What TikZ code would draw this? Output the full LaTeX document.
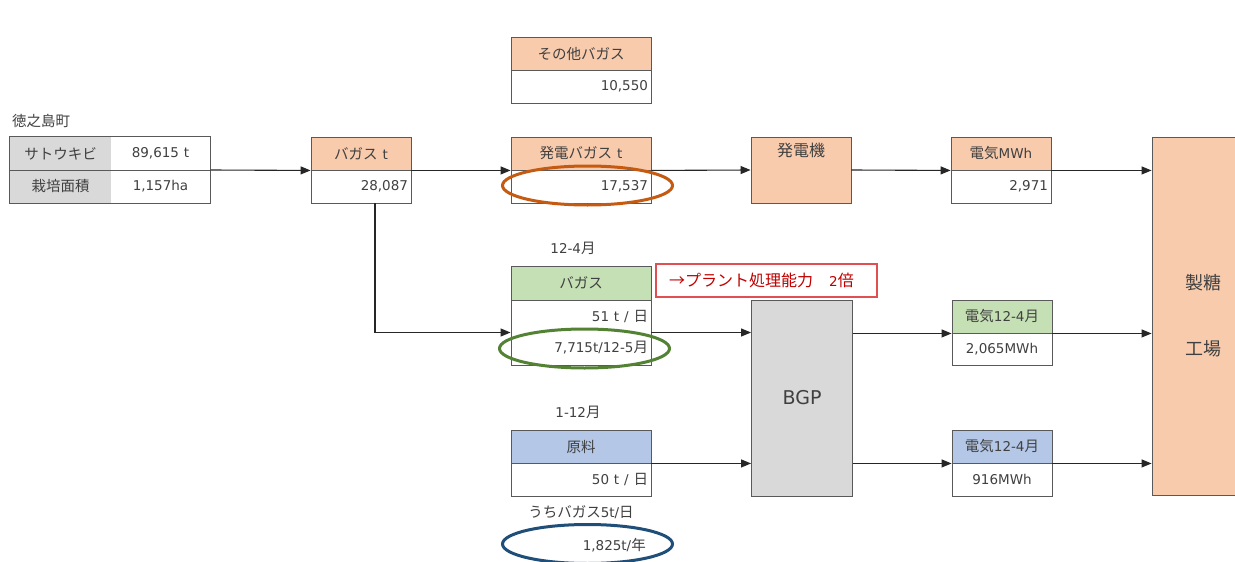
\documentclass[tikz,border=0pt]{standalone}
\usepackage{fontspec}
\setmainfont{Noto Sans CJK JP}
\newfontfamily\latfont{DejaVu Sans}
\newcommand\ltn[1]{{\latfont\fontsize{13.5}{15}\selectfont #1}}
\usetikzlibrary{arrows.meta,fit,shapes.geometric}
\definecolor{txt}{HTML}{404040}
\definecolor{bord}{HTML}{595959}
\definecolor{orfill}{HTML}{F8CBAD}
\definecolor{grfill}{HTML}{C5E0B4}
\definecolor{blfill}{HTML}{B4C7E7}
\definecolor{gyfill}{HTML}{D9D9D9}
\definecolor{ellor}{HTML}{C55A11}
\definecolor{ellgr}{HTML}{548235}
\definecolor{ellbl}{HTML}{1F4E79}
\definecolor{redtxt}{HTML}{C00000}
\definecolor{redbord}{HTML}{E05050}
\tikzset{
  cell/.style 2 args={draw=bord, line width=0.9pt, minimum height=#2, text width=#1, inner xsep=3pt, inner ysep=0pt, align=center, text=txt},
  rcell/.style 2 args={cell={#1}{#2}, align=right},
  bare/.style 2 args={minimum height=#2, text width=#1, inner xsep=3pt, inner ysep=0pt, align=center, text=txt},
  arr/.style={line width=1.1pt, draw=black!85, -{Triangle[length=10pt,width=8pt]}},
  lbl/.style={text=txt, inner sep=0pt},
  ell/.style={line width=3pt, ellipse, minimum width=170pt, minimum height=39pt},
}
\begin{document}
\begin{tikzpicture}[x=1pt,y=-1pt,font=\fontsize{14.5}{16}\selectfont]
\useasboundingbox[fill=white] (0,0) rectangle (1235,562);

% left table
\node[lbl, anchor=west] (town) at (12,121) {徳之島町};
\node[bare={95pt}{33pt}, fill=gyfill] (g1) at (60.5,153.5) {サトウキビ};
\node[bare={93pt}{33pt}] (v1) at (160.5,153.5) {\ltn{89,615 t}};
\node[bare={95pt}{33pt}, fill=gyfill] (g2) at (60.5,186.5) {栽培面積};
\node[bare={93pt}{33pt}] (v2) at (160.5,186.5) {\ltn{1,157ha}};
\node[draw=bord, line width=0.9pt, fit=(g1)(v2), inner sep=0pt] (lt) {};
\draw[draw=bord, line width=0.9pt] (g1.south west) -- (v1.south east);

% bagasse t
\node[cell={94pt}{33pt}, fill=orfill] (b1) at (361,153.5) {バガス\ltn{ t}};
\node[rcell={94pt}{33pt}] (b2) at (361,186.5) {\ltn{28,087}};

% other bagasse
\node[cell={134pt}{33pt}, fill=orfill] (o1) at (581,53.5) {その他バガス};
\node[rcell={134pt}{33pt}] (o2) at (581,86.5) {\ltn{10,550}};

% power bagasse
\node[cell={134pt}{33pt}, fill=orfill] (p1) at (581,153.5) {発電バガス\ltn{ t}};
\node[rcell={134pt}{33pt}] (p2) at (581,186.5) {\ltn{17,537}};
\node[ell, draw=ellor] (e_or) at (587.5,185.5) {};

% generator
\node[cell={94pt}{66pt}, fill=orfill, text depth=40pt, font=\fontsize{16}{18}\selectfont] (gen) at (801,170) {発電機};

% electricity MWh
\node[cell={94pt}{33pt}, fill=orfill] (e1) at (1001,153.5) {電気\ltn{MWh}};
\node[rcell={94pt}{33pt}] (e2) at (1001,186.5) {\ltn{2,971}};

% sugar factory
\node[draw=bord, line width=0.9pt, fill=orfill, minimum width=95pt, minimum height=358pt, inner sep=0pt] (plant) at (1199.5,316) {};
\node[lbl, font=\fontsize{18}{20}\selectfont] (pl1) at (1203,283) {製糖};
\node[lbl, font=\fontsize{18}{20}\selectfont] (pl2) at (1203,349) {工場};

% green bagasse
\node[lbl] (m1) at (573,248) {\ltn{12-4}月};
\node[cell={134pt}{34pt}, fill=grfill] (gb1) at (581,283) {バガス};
\node[rcell={134pt}{65pt}] (gb2) at (581,332.5) {\ltn{51 t / }日\\[15pt]\ltn{7,715t/12-5}月};
\node[ell, draw=ellgr] (e_gr) at (584.5,348.5) {};
\node[draw=redbord, line width=1.2pt, minimum width=221pt, minimum height=33pt, inner sep=0pt] (red) at (766.5,280.5) {};
\node[anchor=west, text=redtxt, inner sep=0pt, font=\fontsize{16}{18}\selectfont] (redt) at (669,280.5) {→プラント処理能力\quad\ltn{2}倍};

% BGP
\node[draw=bord, line width=0.9pt, fill=gyfill, minimum width=101pt, minimum height=196pt, inner sep=0pt, text=txt, font=\latfont\fontsize{19}{22}\selectfont] (bgp) at (802,398) {BGP};

% electricity green
\node[cell={94pt}{33pt}, fill=grfill] (eg1) at (1002,316.5) {電気\ltn{12-4}月};
\node[cell={94pt}{32pt}] (eg2) at (1002,349) {\ltn{2,065MWh}};

% raw material
\node[lbl] (m2) at (578,412) {\ltn{1-12}月};
\node[cell={134pt}{33pt}, fill=blfill] (r1) at (581,446.5) {原料};
\node[rcell={134pt}{33pt}] (r2) at (581,479.5) {\ltn{50 t / }日};
\node[lbl] (m3) at (581,512) {うちバガス\ltn{5t/}日};
\node[ell, draw=ellbl] (e_bl) at (587.5,544) {};
\node[lbl, anchor=east] (r3) at (646,545) {\ltn{1,825t/}年};

% electricity blue
\node[cell={94pt}{33pt}, fill=blfill] (eb1) at (1002,446.5) {電気\ltn{12-4}月};
\node[cell={94pt}{33pt}] (eb2) at (1002,479.5) {\ltn{916MWh}};

% connectors
\draw[arr] (lt.east) -- (b1.south west);
\draw[arr] (b1.south east) -- (p1.south west);
\draw[arr] ([xshift=14pt]b2.south) |- (gb2.west);
\draw[arr] (p1.south east) -- (gen.west);
\draw[arr] (gen.east) -- (e1.south west);
\draw[arr] (e1.south east) -- (plant.west |- e1.south east);
\draw[arr] (gb2.east) -- (bgp.west |- gb2.east);
\draw[arr] (bgp.east |- eg1.south west) -- (eg1.south west);
\draw[arr] (eg1.south east) -- (plant.west |- eg1.south east);
\draw[arr] (r1.south east) -- (bgp.west |- r1.south east);
\draw[arr] (bgp.east |- eb1.south west) -- (eb1.south west);
\draw[arr] (eb1.south east) -- (plant.west |- eb1.south east);
\end{tikzpicture}
\end{document}
